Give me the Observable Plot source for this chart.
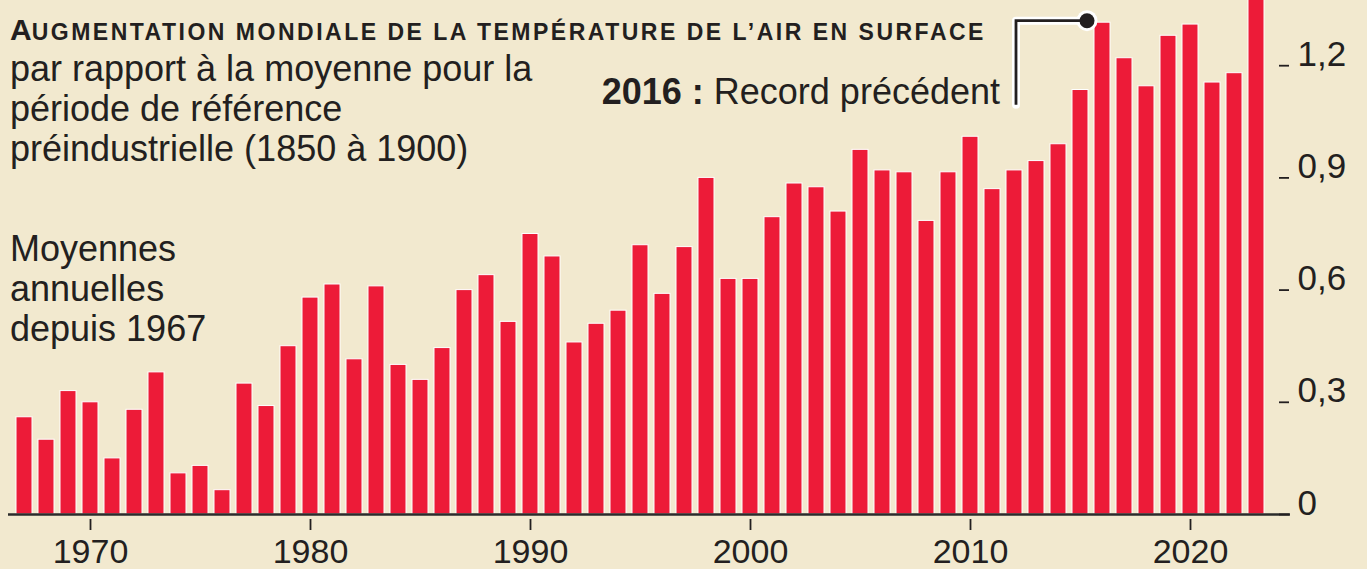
<!DOCTYPE html>
<html><head><meta charset="utf-8">
<script src="https://cdn.jsdelivr.net/npm/d3@7"></script>
<script src="https://cdn.jsdelivr.net/npm/@observablehq/plot@0.6"></script>
<style>
html,body{margin:0;padding:0;background:#f2e9cf;}
#chart{position:relative;width:1367px;height:569px;overflow:hidden;background:#f2e9cf;}
#chart svg{display:block;}
#chart svg text{font-family:"Liberation Sans",Arial,Helvetica,sans-serif;}
</style></head>
<body><div id="chart"></div>
<script>
// ---- data ----
const years = [1967,1968,1969,1970,1971,1972,1973,1974,1975,1976,
  1977,1978,1979,1980,1981,1982,1983,1984,1985,1986,
  1987,1988,1989,1990,1991,1992,1993,1994,1995,1996,
  1997,1998,1999,2000,2001,2002,2003,2004,2005,2006,
  2007,2008,2009,2010,2011,2012,2013,2014,2015,2016,
  2017,2018,2019,2020,2021,2022,2023];
const anomalies = [0.26,0.20,0.33,0.30,0.15,0.28,0.38,0.11,0.13,0.065,
  0.35,0.29,0.45,0.58,0.615,0.415,0.61,0.40,0.36,0.445,
  0.60,0.64,0.515,0.75,0.69,0.46,0.51,0.545,0.72,0.59,
  0.715,0.90,0.63,0.63,0.795,0.885,0.875,0.81,0.975,0.92,
  0.915,0.785,0.915,1.01,0.87,0.92,0.945,0.99,1.135,1.315,
  1.22,1.145,1.28,1.31,1.155,1.18,1.48];
const xTickYears = [1970,1980,1990,2000,2010,2020];
const yTickValues = [0,0.3,0.6,0.9,1.2];
const titleFirst = "A";
const titleRest = "UGMENTATION MONDIALE DE LA TEMPÉRATURE DE L’AIR EN SURFACE";
const subtitleLines = ["par rapport à la moyenne pour la","période de référence","préindustrielle (1850 à 1900)"];
const noteLines = ["Moyennes","annuelles","depuis 1967"];
const recordYear = 2016;
const recordBold = "2016 :";
const recordText = " Record précédent";

// ---- chart ----
const data = years.map((year, i) => ({year, value: anomalies[i]}));
const fmt = d => d === 0 ? "0" : d.toFixed(1).replace(".", ",");
const INK = "#231f20";
const RED = "#ed1b38";

function recordAnnotation(index, scales) {
  const x = scales.x;
  const bw = x.bandwidth ? x.bandwidth() : 16;
  const rec = data.find(d => d.year === recordYear);
  const cx = x(recordYear) + bw / 2 - 15;
  const cy = scales.y(rec.value) - 1.5;
  const g = d3.create("svg:g");
  const path = `M${cx},${cy}H${cx - 71}V${cy + 84}`;
  g.append("path").attr("d", path).attr("fill", "none").attr("stroke", "#fff")
    .attr("stroke-width", 8).attr("stroke-linecap", "round").attr("stroke-linejoin", "round");
  g.append("circle").attr("cx", cx).attr("cy", cy).attr("r", 10.5).attr("fill", "#fff");
  g.append("path").attr("d", path).attr("fill", "none").attr("stroke", INK)
    .attr("stroke-width", 2.8);
  g.append("circle").attr("cx", cx).attr("cy", cy).attr("r", 7.5).attr("fill", INK);
  return g.node();
}

const chart = Plot.plot({
  width: 1367,
  height: 569,
  marginLeft: 13,
  marginRight: 100,
  marginTop: 0,
  marginBottom: 55,
  style: {background: "transparent", color: INK, fontFamily: "Liberation Sans, Arial, sans-serif"},
  x: {type: "band", domain: years, paddingInner: 0.27, paddingOuter: 0.135, label: null},
  y: {domain: [0, 514 / 374], label: null},
  marks: [
    Plot.barY(data, {x: "year", y: "value", fill: RED, stroke: "#fff", strokeWidth: 1, clip: true}),
    Plot.ruleY([0], {stroke: "#2b2b2b", strokeWidth: 2.6, insetLeft: -5, insetRight: -23}),
    Plot.axisX({ticks: xTickYears, tickSize: 11, dy: 5, tickPadding: 8, fontSize: 34,
      label: null, strokeWidth: 1.8, tickFormat: d => String(d)}),
    Plot.axisY({anchor: "right", ticks: yTickValues, tickFormat: fmt, tickSize: 10, dx: 11,
      tickPadding: 9, fontSize: 35, label: null, lineAnchor: "bottom", strokeWidth: 1.8}),
    recordAnnotation
  ]
});
document.getElementById("chart").appendChild(chart);

// ---- texts ----
const svg = d3.select(chart);
const T = svg.append("g").attr("fill", INK).attr("text-anchor", "start");
const title = T.append("text").attr("x", 10).attr("y", 40).attr("font-weight", "bold");
title.append("tspan").attr("font-size", 30).text(titleFirst);
title.append("tspan").attr("font-size", 23).attr("letter-spacing", 2.5).text(titleRest);

subtitleLines.forEach((s, i) => {
  T.append("text").attr("x", 10).attr("y", 81 + i * 40).attr("font-size", 36).text(s);
});
noteLines.forEach((s, i) => {
  T.append("text").attr("x", 10).attr("y", 261 + i * 40).attr("font-size", 36).text(s);
});
const rec = T.append("text").attr("x", 1000).attr("y", 104).attr("font-size", 36).attr("text-anchor", "end");
rec.append("tspan").attr("font-weight", "bold").text(recordBold);
rec.append("tspan").text(recordText);
</script>
</body></html>
